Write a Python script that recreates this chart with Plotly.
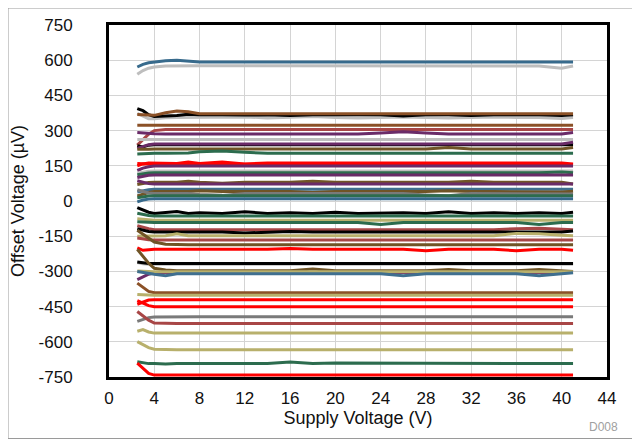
import plotly.graph_objects as go

# Supply voltage sample points (V)
supply_v = [2.5, 3, 3.5, 4, 5, 6, 7, 8, 10, 12, 14, 16, 18, 20, 22, 24, 26, 28, 30, 32, 34, 36, 38, 40, 41]

BLUE = "#376A8C"; GRAY = "#BEBEBE"; DGRAY = "#7A7A7A"; BROWN = "#8B5127"; DBROWN = "#705426"
PURPLE = "#6A2B68"; IRED = "#A84646"; GREEN = "#2C6C4E"; RED = "#FF0000"; KHAKI = "#B8B06C"
BLACK = "#000000"; STEEL = "#3F6F8F"

# Offset voltage per unit (uV), one list per device
u01 = [571, 582, 589, 592, 598, 600, 595, 592, 592, 592, 592, 592, 592, 592, 592, 592, 592, 592, 592, 592, 592, 592, 592, 592, 592]
u02 = [540, 556, 566, 571, 575, 576, 576, 576, 576, 576, 576, 576, 576, 576, 576, 576, 576, 576, 576, 576, 576, 576, 575, 566, 575]
u03 = [394, 385, 368, 360, 362, 364, 370, 368, 368, 366, 368, 364, 368, 368, 366, 368, 362, 368, 368, 364, 368, 368, 368, 364, 368]
u04 = [369, 367, 364, 365, 376, 383, 380, 372, 372, 372, 372, 372, 372, 372, 372, 372, 372, 372, 372, 372, 372, 372, 372, 372, 372]
u05 = [373, 362, 350, 350, 355, 356, 356, 356, 356, 358, 354, 356, 360, 356, 354, 356, 358, 356, 354, 356, 358, 356, 356, 352, 356]
u06 = [323, 323, 323, 323, 323, 323, 323, 323, 323, 323, 323, 323, 323, 323, 323, 323, 323, 323, 323, 323, 323, 323, 323, 323, 323]
u07 = [238, 262, 285, 300, 305, 305, 305, 305, 305, 305, 305, 305, 305, 305, 305, 305, 305, 305, 305, 305, 305, 305, 305, 305, 305]
u08 = [292, 290, 288, 287, 286, 286, 286, 286, 286, 286, 286, 286, 286, 286, 286, 290, 295, 290, 286, 286, 286, 286, 286, 286, 292]
u09 = [262, 262, 262, 262, 262, 262, 262, 262, 262, 262, 262, 262, 262, 262, 262, 262, 262, 262, 262, 262, 262, 262, 262, 262, 262]
u10 = [236, 230, 238, 240, 240, 240, 240, 240, 240, 240, 240, 240, 240, 240, 240, 240, 240, 240, 240, 240, 240, 240, 240, 240, 240]
u11 = [224, 232, 240, 243, 243, 243, 243, 243, 243, 243, 243, 243, 243, 243, 243, 243, 243, 243, 243, 243, 243, 243, 243, 243, 250]
u12 = [221, 220, 221, 222, 222, 222, 222, 222, 222, 222, 222, 222, 222, 222, 222, 222, 222, 222, 228, 222, 222, 222, 222, 222, 228]
u13 = [200, 202, 203, 203, 203, 203, 205, 210, 213, 208, 203, 203, 203, 203, 203, 203, 203, 203, 203, 203, 203, 203, 203, 203, 203]
u14 = [150, 158, 162, 162, 162, 160, 166, 160, 166, 158, 162, 162, 162, 162, 162, 162, 162, 162, 162, 162, 162, 162, 162, 162, 158]
u15 = [160, 158, 157, 157, 157, 157, 157, 157, 157, 157, 157, 157, 157, 157, 157, 157, 157, 157, 157, 157, 157, 157, 157, 157, 152]
u16 = [130, 140, 146, 149, 149, 149, 149, 149, 149, 149, 149, 149, 149, 149, 149, 149, 149, 149, 149, 149, 149, 149, 149, 149, 149]
u17 = [118, 124, 127, 128, 128, 128, 128, 128, 128, 128, 128, 128, 128, 128, 128, 128, 128, 128, 128, 128, 128, 128, 128, 128, 128]
u18 = [112, 116, 119, 120, 120, 120, 120, 120, 120, 120, 120, 120, 120, 120, 120, 120, 120, 120, 120, 120, 120, 120, 120, 124, 120]
u19 = [100, 106, 110, 111, 111, 111, 111, 111, 111, 111, 111, 111, 111, 111, 111, 111, 111, 111, 111, 111, 111, 111, 111, 111, 111]
u20 = [70, 75, 79, 80, 80, 80, 84, 80, 76, 80, 80, 80, 84, 80, 80, 80, 80, 80, 80, 84, 80, 80, 80, 80, 72]
u21 = [86, 80, 74, 72, 72, 72, 72, 72, 72, 72, 72, 72, 72, 72, 72, 72, 72, 72, 72, 72, 72, 72, 72, 72, 72]
u22 = [38, 44, 48, 50, 50, 50, 50, 50, 50, 50, 50, 50, 50, 50, 50, 50, 50, 50, 50, 50, 50, 50, 50, 50, 50]
u23 = [22, 30, 36, 40, 40, 40, 40, 44, 40, 40, 40, 40, 36, 40, 40, 40, 40, 40, 44, 40, 40, 40, 40, 38, 42]
u24 = [48, 40, 34, 32, 32, 32, 32, 28, 24, 32, 32, 32, 32, 32, 32, 32, 32, 26, 22, 32, 32, 32, 32, 32, 30]
u25 = [14, 18, 21, 22, 22, 22, 22, 22, 22, 22, 22, 22, 22, 22, 22, 22, 22, 22, 22, 22, 22, 22, 22, 22, 22]
u26 = [-4, 4, 8, 10, 10, 10, 10, 10, 10, 10, 10, 10, 10, 10, 10, 10, 10, 10, 10, 10, 10, 10, 10, 10, 10]
u27 = [-28, -38, -48, -53, -50, -45, -53, -50, -53, -46, -53, -50, -53, -48, -53, -50, -50, -53, -46, -53, -50, -53, -50, -53, -48]
u28 = [-52, -58, -62, -64, -64, -64, -64, -64, -64, -64, -64, -64, -64, -64, -64, -64, -64, -64, -64, -64, -64, -64, -64, -64, -64]
u29 = [-76, -79, -81, -82, -82, -82, -82, -82, -82, -82, -82, -82, -82, -82, -82, -82, -82, -82, -82, -82, -82, -82, -82, -82, -82]
u30 = [-88, -90, -92, -92, -92, -92, -92, -92, -92, -92, -92, -92, -92, -92, -92, -100, -92, -92, -92, -92, -92, -92, -100, -92, -92]
u31 = [-105, -112, -118, -122, -122, -122, -122, -122, -122, -122, -122, -122, -122, -122, -122, -122, -122, -122, -122, -122, -122, -118, -116, -120, -122]
u32 = [-118, -124, -130, -132, -132, -132, -132, -132, -132, -136, -132, -130, -132, -132, -132, -132, -132, -132, -132, -132, -132, -132, -132, -132, -128]
u33 = [-150, -150, -148, -148, -148, -140, -148, -148, -148, -148, -148, -148, -148, -148, -148, -148, -148, -148, -148, -148, -148, -138, -140, -146, -148]
u34 = [-158, -162, -165, -166, -166, -166, -166, -166, -166, -166, -166, -166, -166, -166, -166, -166, -166, -166, -166, -166, -166, -166, -166, -166, -166]
u35 = [-125, -142, -160, -175, -184, -186, -186, -186, -186, -186, -186, -186, -186, -186, -186, -186, -186, -186, -186, -186, -186, -186, -186, -186, -186]
u36 = [-200, -210, -208, -206, -206, -206, -206, -206, -206, -206, -206, -202, -206, -206, -206, -206, -206, -212, -206, -206, -206, -212, -206, -206, -210]
u37 = [-262, -268, -270, -270, -270, -270, -270, -270, -270, -270, -270, -270, -270, -270, -270, -270, -270, -270, -270, -270, -270, -270, -270, -270, -270]
u38 = [-260, -264, -266, -266, -266, -266, -266, -266, -266, -266, -266, -266, -266, -266, -266, -266, -266, -266, -266, -266, -266, -266, -266, -266, -266]
u39 = [-206, -235, -265, -287, -294, -297, -297, -300, -297, -297, -297, -297, -290, -297, -297, -297, -297, -297, -292, -297, -297, -297, -292, -297, -300]
u40 = [-298, -300, -302, -302, -302, -302, -302, -302, -302, -302, -302, -302, -302, -302, -302, -302, -302, -302, -302, -302, -302, -302, -302, -302, -302]
u41 = [-335, -322, -312, -306, -305, -305, -305, -305, -305, -305, -305, -305, -305, -305, -305, -305, -305, -305, -305, -305, -305, -305, -305, -305, -305]
u42 = [-300, -305, -310, -312, -318, -310, -310, -310, -310, -310, -310, -310, -310, -310, -310, -310, -318, -310, -310, -310, -310, -310, -318, -310, -306]
u43 = [-350, -368, -385, -391, -391, -391, -391, -391, -391, -391, -391, -391, -391, -391, -391, -391, -391, -391, -391, -391, -391, -391, -391, -391, -391]
u44 = [-398, -400, -402, -402, -402, -402, -402, -402, -402, -402, -402, -402, -402, -402, -402, -402, -402, -402, -402, -402, -402, -402, -402, -402, -402]
u45 = [-440, -430, -422, -421, -421, -421, -421, -421, -421, -421, -421, -421, -421, -421, -421, -421, -421, -421, -421, -421, -421, -421, -421, -421, -421]
u46 = [-425, -436, -446, -451, -451, -451, -451, -451, -451, -451, -451, -451, -451, -451, -451, -451, -451, -451, -451, -451, -451, -451, -451, -451, -451]
u47 = [-513, -505, -497, -494, -493, -493, -493, -493, -493, -493, -493, -493, -493, -493, -493, -493, -493, -493, -493, -493, -493, -493, -493, -493, -493]
u48 = [-471, -490, -508, -520, -522, -522, -522, -522, -522, -522, -522, -522, -522, -522, -522, -522, -522, -522, -522, -522, -522, -522, -522, -522, -522]
u49 = [-555, -548, -558, -563, -563, -563, -563, -563, -563, -563, -563, -563, -563, -563, -563, -563, -563, -563, -563, -563, -563, -563, -563, -563, -563]
u50 = [-599, -612, -625, -632, -634, -634, -634, -634, -634, -634, -634, -634, -634, -634, -634, -634, -634, -634, -634, -634, -634, -634, -634, -634, -634]
u51 = [-685, -690, -693, -693, -695, -693, -693, -693, -693, -693, -693, -686, -693, -690, -690, -693, -693, -693, -693, -693, -693, -693, -693, -693, -693]
u52 = [-691, -712, -735, -742, -742, -742, -742, -742, -742, -742, -742, -742, -742, -742, -742, -742, -742, -742, -742, -742, -742, -742, -742, -742, -742]

units = [
    (u01, BLUE), (u02, GRAY), (u05, GRAY), (u03, BLACK), (u04, BROWN), (u06, BROWN),
    (u07, IRED), (u08, PURPLE), (u09, GRAY), (u10, BLACK), (u11, PURPLE), (u12, DBROWN),
    (u13, GREEN), (u15, RED), (u14, RED), (u16, PURPLE), (u17, GRAY), (u18, GREEN),
    (u19, PURPLE), (u20, DBROWN), (u21, PURPLE), (u22, STEEL), (u23, DBROWN), (u24, DGRAY),
    (u25, GREEN), (u26, BLUE), (u27, BLACK), (u28, GREEN), (u29, KHAKI), (u30, GREEN),
    (u31, IRED), (u32, BLACK), (u33, KHAKI), (u34, IRED), (u35, DBROWN), (u36, RED),
    (u37, GRAY), (u38, BLACK), (u41, PURPLE), (u39, DBROWN), (u40, KHAKI), (u42, STEEL),
    (u43, BROWN), (u44, KHAKI), (u45, RED), (u46, RED), (u47, DGRAY), (u48, IRED),
    (u49, KHAKI), (u50, KHAKI), (u51, GREEN), (u52, RED),
]

x_ticks = [0, 4, 8, 12, 16, 20, 24, 28, 32, 36, 40, 44]
y_ticks = [750, 600, 450, 300, 150, 0, -150, -300, -450, -600, -750]

fig = go.Figure()
for vals, col in units:
    fig.add_trace(go.Scatter(x=supply_v, y=vals, mode="lines",
                             line=dict(color=col, width=3), showlegend=False,
                             hoverinfo="skip"))

# page body has an 8px margin, so the figure is sized/shifted to land on the same pixels
FONT = "Liberation Sans, Arial, sans-serif"
W, H = 632, 431
L, R, T, B = 101, 33, 17, 62
PW, PH = W - L - R, H - T - B
fig.update_layout(
    width=W, height=H, autosize=False,
    margin=dict(l=L, r=R, t=T, b=B),
    paper_bgcolor="white", plot_bgcolor="white",
    font=dict(family=FONT, size=17, color="#111111"),
    xaxis=dict(range=[0, 44], tickvals=x_ticks, ticktext=[str(t) for t in x_ticks],
               showgrid=True, gridcolor="#D4D4D4", gridwidth=1, zeroline=False,
               showline=True, linecolor="black", linewidth=3, mirror=True,
               ticks="", ticklabelstandoff=4, automargin=False,
               title=dict(text="Supply Voltage (V)", standoff=4, font=dict(size=18))),
    yaxis=dict(range=[-750, 750], tickvals=y_ticks, ticktext=[str(t) for t in y_ticks],
               showgrid=True, gridcolor="#D4D4D4", gridwidth=1, zeroline=False,
               showline=True, linecolor="black", linewidth=3, mirror=True,
               ticks="", ticklabelstandoff=30, automargin=False,
               title=dict(text="Offset Voltage (µV)", standoff=12, font=dict(size=18))),
    annotations=[dict(text="D008", xref="paper", yref="paper", x=(603 - 8 - L) / PW,
                      y=-(427 - 8 - (T + PH)) / PH,
                      xanchor="center", yanchor="middle", showarrow=False,
                      font=dict(size=12, color="#A0A0A0"))],
    shapes=[dict(type="rect", xref="paper", yref="paper",
                 x0=-L / PW, x1=(W - L - 0.5) / PW, y0=-(B - 0.5) / PH, y1=1 + T / PH,
                 line=dict(color="#9A9A9A", width=1), layer="below")],
)

fig.write_html("out.html")
